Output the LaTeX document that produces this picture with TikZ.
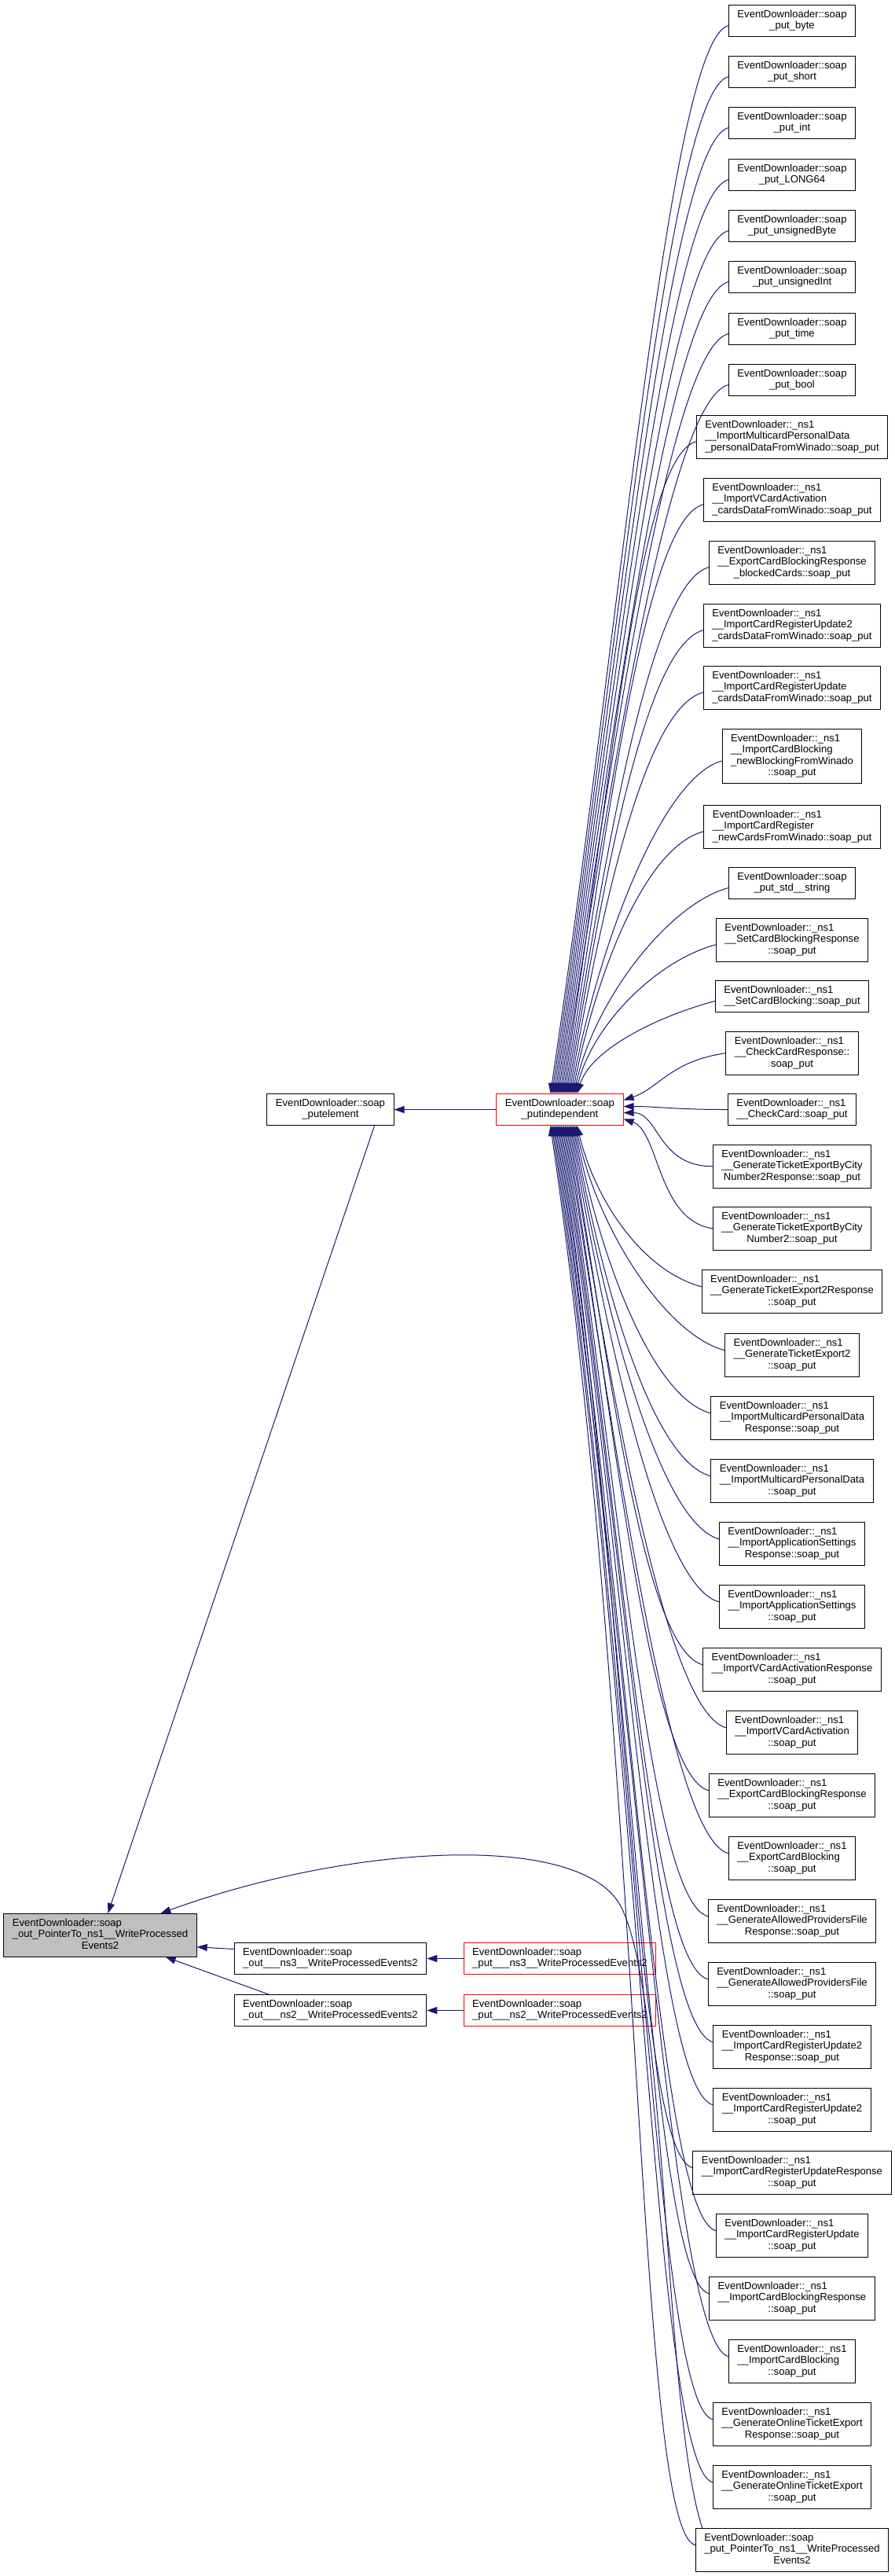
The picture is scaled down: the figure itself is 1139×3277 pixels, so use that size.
\documentclass[tikz,border=0pt]{standalone}
\usepackage{fontspec}
\setmainfont{Liberation Sans}
\usetikzlibrary{arrows.meta,calc}
\definecolor{edgeblue}{RGB}{25,25,112}
\definecolor{grayfill}{RGB}{191,191,191}
\newcommand{\lbltwo}[2]{\begin{tabular}{@{}l@{}}#1\\\multicolumn{1}{@{}c@{}}{#2}\end{tabular}}
\newcommand{\lblthree}[3]{\begin{tabular}{@{}l@{}}#1\\#2\\\multicolumn{1}{@{}c@{}}{#3}\end{tabular}}
\newcommand{\lblfour}[4]{\begin{tabular}{@{}l@{}}#1\\#2\\#3\\\multicolumn{1}{@{}c@{}}{#4}\end{tabular}}
\newcommand{\ED}{EventDownloader::}
\newcommand{\NS}{EventDownloader::\_ns1}
\tikzset{
  box/.style={draw=black, fill=white, line width=1pt, inner xsep=11pt, inner ysep=5.5pt,
    font=\fontsize{13.1}{14.5}\selectfont, anchor=north},
  redbox/.style={box, draw=red},
  focusbox/.style={box, fill=grayfill},
  edge/.style={draw=edgeblue, line width=1pt, -{Triangle[length=13pt,width=9pt]}},
}
\begin{document}
\begin{tikzpicture}[x=1pt,y=-1pt]
\useasboundingbox[fill=white] (0,0) rectangle (1139,3277);

% left / middle nodes
\node[focusbox] (gray) at (127.5,2434) {\lblthree{\ED soap}{\_out\_PointerTo\_ns1\_\_WriteProcessed}{Events2}};
\node[box] (pe) at (420.5,1391) {\lbltwo{\ED soap}{\_putelement}};
\node[box] (o3) at (420.5,2471) {\lbltwo{\ED soap}{\_out\_\_\_ns3\_\_WriteProcessedEvents2}};
\node[box] (o2) at (420.5,2537) {\lbltwo{\ED soap}{\_out\_\_\_ns2\_\_WriteProcessedEvents2}};
\node[redbox] (P) at (712.5,1391) {\lbltwo{\ED soap}{\_putindependent}};
\node[redbox] (rn3) at (712.5,2471) {\lbltwo{\ED soap}{\_put\_\_\_ns3\_\_WriteProcessedEvents2}};
\node[redbox] (rn2) at (712.5,2537) {\lbltwo{\ED soap}{\_put\_\_\_ns2\_\_WriteProcessedEvents2}};

% right column
\node[box] (n1) at (1008,6) {\lbltwo{\ED soap}{\_put\_byte}};
\node[box] (n2) at (1008,71) {\lbltwo{\ED soap}{\_put\_short}};
\node[box] (n3) at (1008,136) {\lbltwo{\ED soap}{\_put\_int}};
\node[box] (n4) at (1008,202) {\lbltwo{\ED soap}{\_put\_LONG64}};
\node[box] (n5) at (1008,267) {\lbltwo{\ED soap}{\_put\_unsignedByte}};
\node[box] (n6) at (1008,332) {\lbltwo{\ED soap}{\_put\_unsignedInt}};
\node[box] (n7) at (1008,398) {\lbltwo{\ED soap}{\_put\_time}};
\node[box] (n8) at (1008,463) {\lbltwo{\ED soap}{\_put\_bool}};
\node[box] (n9) at (1008,528) {\lblthree{\NS}{\_\_ImportMulticardPersonalData}{\_personalDataFromWinado::soap\_put}};
\node[box] (n10) at (1008,608) {\lblthree{\NS}{\_\_ImportVCardActivation}{\_cardsDataFromWinado::soap\_put}};
\node[box] (n11) at (1008,688) {\lblthree{\NS}{\_\_ExportCardBlockingResponse}{\_blockedCards::soap\_put}};
\node[box] (n12) at (1008,768) {\lblthree{\NS}{\_\_ImportCardRegisterUpdate2}{\_cardsDataFromWinado::soap\_put}};
\node[box] (n13) at (1008,847) {\lblthree{\NS}{\_\_ImportCardRegisterUpdate}{\_cardsDataFromWinado::soap\_put}};
\node[box] (n14) at (1008,927) {\lblfour{\NS}{\_\_ImportCardBlocking}{\_newBlockingFromWinado}{::soap\_put}};
\node[box] (n15) at (1008,1024) {\lblthree{\NS}{\_\_ImportCardRegister}{\_newCardsFromWinado::soap\_put}};
\node[box] (n16) at (1008,1103) {\lbltwo{\ED soap}{\_put\_std\_\_string}};
\node[box] (n17) at (1008,1168) {\lblthree{\NS}{\_\_SetCardBlockingResponse}{::soap\_put}};
\node[box] (n18) at (1008,1247) {\lbltwo{\NS}{\_\_SetCardBlocking::soap\_put}};
\node[box] (n19) at (1008,1312) {\lblthree{\NS}{\_\_CheckCardResponse::}{soap\_put}};
\node[box] (n20) at (1008,1391) {\lbltwo{\NS}{\_\_CheckCard::soap\_put}};
\node[box] (n21) at (1008,1456) {\lblthree{\NS}{\_\_GenerateTicketExportByCity}{Number2Response::soap\_put}};
\node[box] (n22) at (1008,1535) {\lblthree{\NS}{\_\_GenerateTicketExportByCity}{Number2::soap\_put}};
\node[box] (n23) at (1008,1615) {\lblthree{\NS}{\_\_GenerateTicketExport2Response}{::soap\_put}};
\node[box] (n24) at (1008,1696) {\lblthree{\NS}{\_\_GenerateTicketExport2}{::soap\_put}};
\node[box] (n25) at (1008,1776) {\lblthree{\NS}{\_\_ImportMulticardPersonalData}{Response::soap\_put}};
\node[box] (n26) at (1008,1856) {\lblthree{\NS}{\_\_ImportMulticardPersonalData}{::soap\_put}};
\node[box] (n27) at (1008,1936) {\lblthree{\NS}{\_\_ImportApplicationSettings}{Response::soap\_put}};
\node[box] (n28) at (1008,2016) {\lblthree{\NS}{\_\_ImportApplicationSettings}{::soap\_put}};
\node[box] (n29) at (1008,2096) {\lblthree{\NS}{\_\_ImportVCardActivationResponse}{::soap\_put}};
\node[box] (n30) at (1008,2176) {\lblthree{\NS}{\_\_ImportVCardActivation}{::soap\_put}};
\node[box] (n31) at (1008,2256) {\lblthree{\NS}{\_\_ExportCardBlockingResponse}{::soap\_put}};
\node[box] (n32) at (1008,2336) {\lblthree{\NS}{\_\_ExportCardBlocking}{::soap\_put}};
\node[box] (n33) at (1008,2416) {\lblthree{\NS}{\_\_GenerateAllowedProvidersFile}{Response::soap\_put}};
\node[box] (n34) at (1008,2496) {\lblthree{\NS}{\_\_GenerateAllowedProvidersFile}{::soap\_put}};
\node[box] (n35) at (1008,2576) {\lblthree{\NS}{\_\_ImportCardRegisterUpdate2}{Response::soap\_put}};
\node[box] (n36) at (1008,2656) {\lblthree{\NS}{\_\_ImportCardRegisterUpdate2}{::soap\_put}};
\node[box] (n37) at (1008,2736) {\lblthree{\NS}{\_\_ImportCardRegisterUpdateResponse}{::soap\_put}};
\node[box] (n38) at (1008,2816) {\lblthree{\NS}{\_\_ImportCardRegisterUpdate}{::soap\_put}};
\node[box] (n39) at (1008,2896) {\lblthree{\NS}{\_\_ImportCardBlockingResponse}{::soap\_put}};
\node[box] (n40) at (1008,2976) {\lblthree{\NS}{\_\_ImportCardBlocking}{::soap\_put}};
\node[box] (n41) at (1008,3056) {\lblthree{\NS}{\_\_GenerateOnlineTicketExport}{Response::soap\_put}};
\node[box] (n42) at (1008,3136) {\lblthree{\NS}{\_\_GenerateOnlineTicketExport}{::soap\_put}};
\node[box] (n43) at (1008,3216) {\lblthree{\ED soap}{\_put\_PointerTo\_ns1\_\_WriteProcessed}{Events2}};

% edges from right column to soap_putindependent
\foreach \i in {1,...,18}{
  \draw[edge] let \p1=(n\i.west), \p2=(P.north) in
    ($(n\i.west)+(0,6)$) .. controls +(-75,20) and +({10+0.06*(\y1-\y2)},{0.45*(\y1-\y2)}) .. ($(P.north)+({-12+2*(\i-1)},0)$);
}
\draw[edge] (n19.west) .. controls +(-70,10) and +(45,-15) .. ($(P.east)+(0,-12)$);
\draw[edge] (n20.west) .. controls +(-70,0) and +(45,0) .. ($(P.east)+(0,-4)$);
\draw[edge] (n21.west) .. controls +(-70,0) and +(45,0) .. ($(P.east)+(0,4)$);
\draw[edge] (n22.west) .. controls +(-70,-10) and +(45,15) .. ($(P.east)+(0,12)$);
\foreach \i in {23,...,43}{
  \draw[edge] let \p1=(n\i.west), \p2=(P.south) in
    ($(n\i.west)+(0,-6)$) .. controls +(-75,-20) and +({10+0.06*(\y2-\y1)},{-0.45*(\y2-\y1)}) .. ($(P.south)+({-12+1.7*(43-\i)},0)$);
}

% other edges
\draw[edge] (P.west) -- (pe.east);
\draw[edge] ($(pe.south east)+(-25,0)$) -- ($(gray.north west)+(133,0)$);
\draw[edge] (rn3.west) -- (o3.east);
\draw[edge] (rn2.west) -- (o2.east);
\draw[edge] ($(o3.west)+(0,-12)$) -- ($(gray.east)+(0,15)$);
\draw[edge] ($(o2.north west)+(44,0)$) -- ($(gray.south east)+(-40,0)$);
\coordinate (k1) at (790,2425);
\draw[edge] ($(n43.north west)+(9,0)$) .. controls (845,3070) and (850,2540) .. (k1)
   .. controls (740,2330) and (450,2345) .. ($(gray.north west)+(200,0)$);
\end{tikzpicture}
\end{document}
